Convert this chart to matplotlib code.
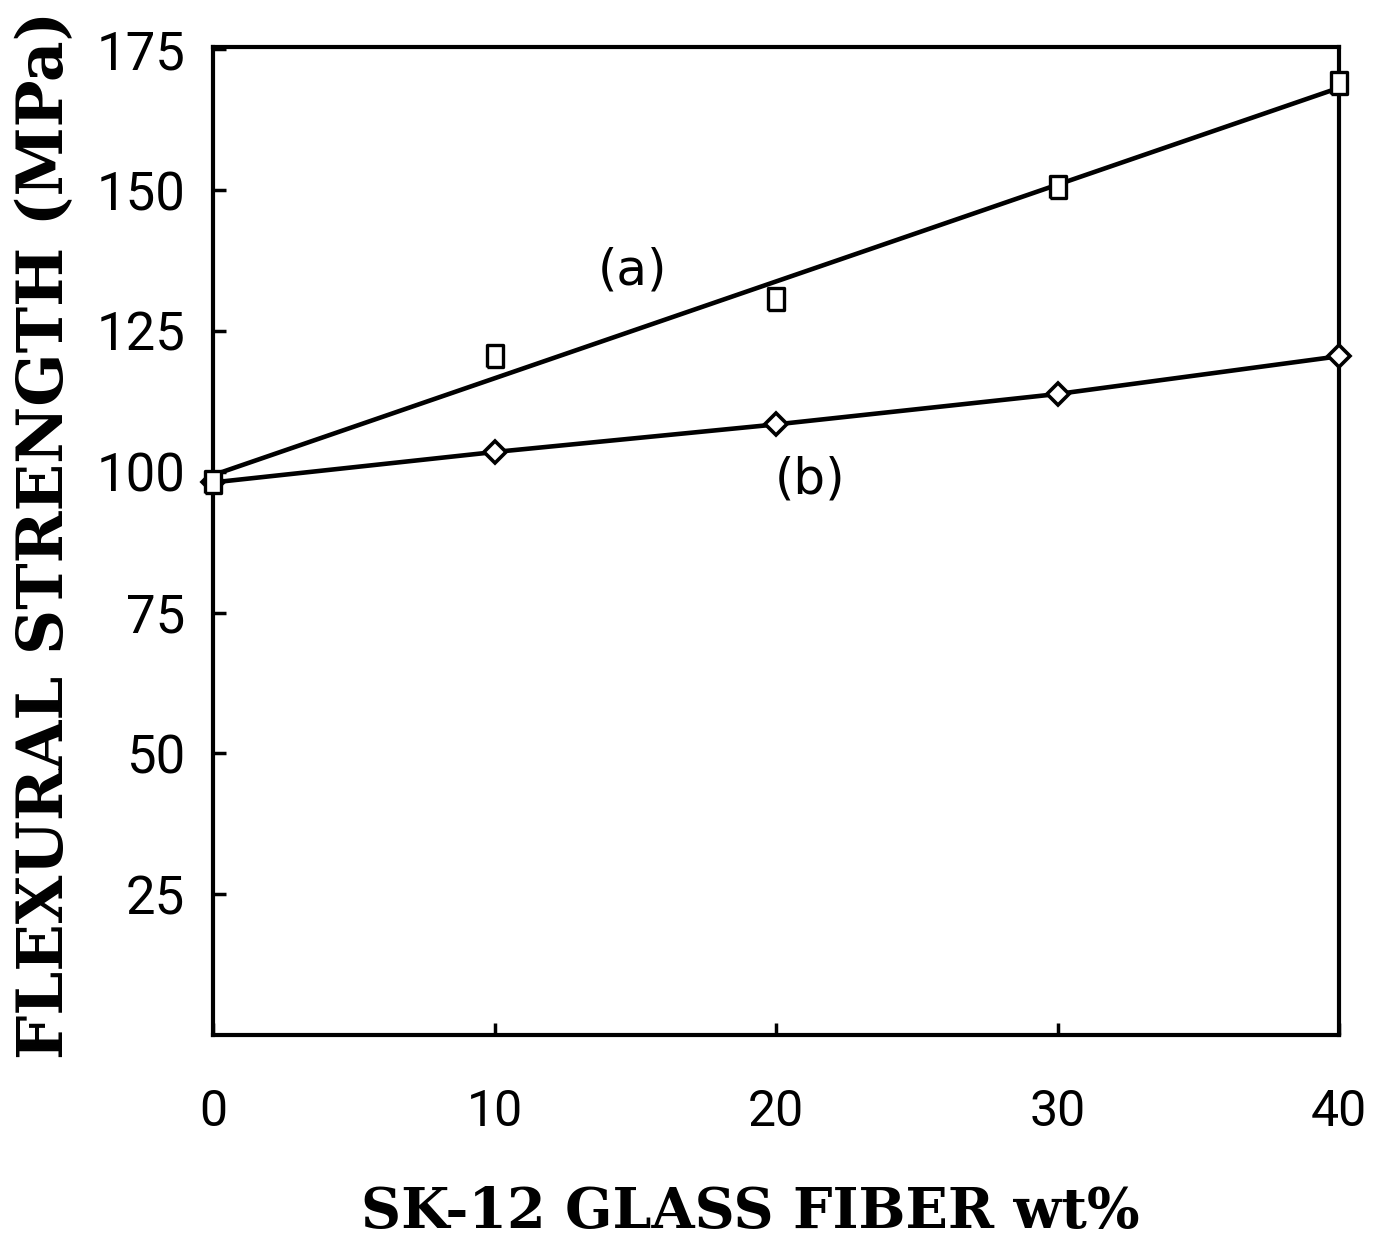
import numpy as np
import matplotlib
matplotlib.use("Agg")
import matplotlib.pyplot as plt

# glass fiber content (wt%)
fiber_wt = [0, 10, 20, 30, 40]
# flexural strength (MPa)
strength_a = [98.1, 120.5, 130.7, 150.6, 169.0]
strength_b = [98.1, 103.5, 108.4, 113.8, 120.5]

y_ticks = [25, 50, 75, 100, 125, 150, 175]
x_ticks = [0, 10, 20, 30, 40]

tick_font = ['Roboto', 'DejaVu Sans']
label_font = ['DejaVu Serif']

# tall open rectangle, like the plotter's square
rect = [(-0.36, -0.5), (0.36, -0.5), (0.36, 0.5), (-0.36, 0.5), (-0.36, -0.5)]

fig = plt.figure(figsize=(13.75, 12.49), dpi=100)
ax = fig.add_axes([0.155, 0.1713, 0.819, 0.7911])

# (a) is drawn as a least squares line through the squares
coef = np.polyfit(fiber_wt, strength_a, 1)
xs = np.array([fiber_wt[0], fiber_wt[-1]])
ax.plot(xs, np.polyval(coef, xs), color='black', lw=3.3, solid_capstyle='round',
        clip_on=False, zorder=2)
ax.plot(fiber_wt, strength_a, ls='none', marker=rect, ms=16, mfc='white',
        mec='black', mew=2.4, clip_on=False, zorder=4)

# (b) connects the diamonds
ax.plot(fiber_wt, strength_b, color='black', lw=3.3, marker='D', ms=11,
        mfc='white', mec='black', mew=2.6, clip_on=False, zorder=3)

ax.text(14.9, 135.7, '(a)', fontsize=36, family='DejaVu Sans',
        ha='center', va='center')
ax.text(21.2, 98.6, '(b)', fontsize=36, family='DejaVu Sans',
        ha='center', va='center')

ax.set_xlim(0, 40)
ax.set_ylim(0, 175.4)
ax.set_xticks(x_ticks)
ax.set_yticks(y_ticks)
ax.set_xticklabels([str(v) for v in x_ticks], family=tick_font, fontsize=36)
ax.set_yticklabels([str(v) for v in y_ticks], family=tick_font, fontsize=38)
ax.tick_params(axis='both', direction='in', length=9, width=2.5, color='black')
ax.tick_params(axis='x', pad=38)
ax.tick_params(axis='y', pad=20)

for s in ax.spines.values():
    s.set_linewidth(3)

ax.set_xlabel('SK-12 GLASS FIBER wt%', family=label_font, weight='bold',
              fontsize=40)
ax.set_ylabel('FLEXURAL STRENGTH (MPa)', family=label_font, weight='bold',
              fontsize=45)
ax.xaxis.set_label_coords(0.477, -0.152)
ax.yaxis.set_label_coords(-0.122, 0.506)

fig.savefig('out.png', dpi=100)
